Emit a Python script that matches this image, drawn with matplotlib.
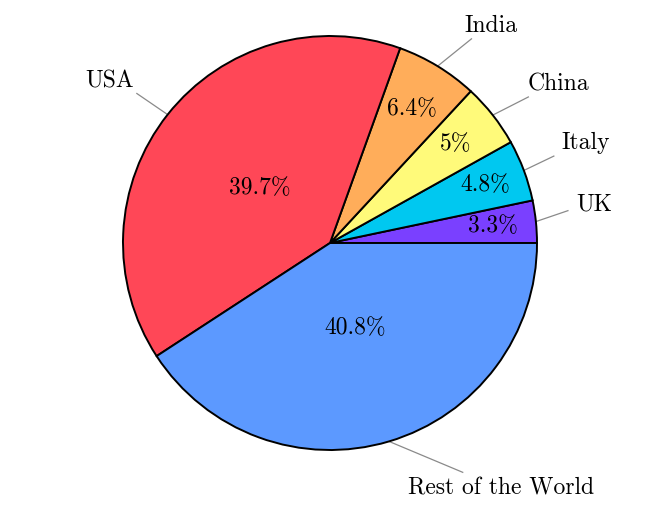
import numpy as np
import matplotlib.pyplot as plt

plt.rcParams['font.family'] = 'serif'
plt.rcParams['font.serif'] = ['cmr10', 'DejaVu Serif']

countries = ['UK', 'Italy', 'China', 'India', 'USA', 'Rest of the World']
shares = [3.3, 4.8, 5, 6.4, 39.7, 40.8]
colors = ['#7A40FF', '#00C8F0', '#FFFA7A', '#FFAD5A', '#FF4757', '#5C99FF']

# layout of the inner percent texts and the outer pins
pct_r = [0.79, 0.80, 0.77, 0.76, 0.43, 0.43]
pin_r = [1.16, 1.16, 1.19, 1.20, 1.18, 1.28]
pin_turn = [1.8, 0.7, -1.8, -3.4, 0.6, 13.5]
text_off = [(8, 6), (8, 13), (-1, 13), (-7, 13), (-3, 12), (38, -16)]
text_ha = ['left', 'left', 'left', 'left', 'right', 'center']

fig = plt.figure(figsize=(6.61, 5.26), dpi=100)
ax = fig.add_axes([0, 0, 1, 1])

wedges, _ = ax.pie(shares, colors=colors, startangle=0, counterclock=True,
                   radius=1, wedgeprops=dict(edgecolor='black', linewidth=1.4))

for i, w in enumerate(wedges):
    mid = np.deg2rad((w.theta1 + w.theta2) / 2)
    ax.text(pct_r[i] * np.cos(mid), pct_r[i] * np.sin(mid), f"{shares[i]:g}%",
            ha='center', va='center', fontsize=17)
    end = mid + np.deg2rad(pin_turn[i])
    x0, y0 = np.cos(mid), np.sin(mid)
    x1, y1 = pin_r[i] * np.cos(end), pin_r[i] * np.sin(end)
    ax.plot([x0, x1], [y0, y1], color='#8a8a8a', linewidth=0.9, zorder=0)
    ax.annotate(countries[i], (x1, y1), xytext=text_off[i], textcoords='offset pixels',
                ha=text_ha[i], va='center', fontsize=17)

ax.set_aspect('auto')
ax.set_xlim(-330 / 207, 331 / 207)
ax.set_ylim(-283 / 207, 243 / 207)
ax.axis('off')

plt.savefig('out.png', dpi=100)
